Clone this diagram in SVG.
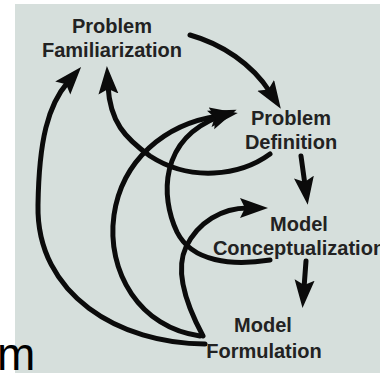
<svg xmlns="http://www.w3.org/2000/svg" width="380" height="373" viewBox="0 0 380 373">
  <style>
    .label { font-family: "Liberation Sans", Arial, sans-serif; font-weight: bold; font-size: 20px; fill: #222222; text-anchor: middle; }
    .flow { fill: none; stroke: #0b0b0b; stroke-width: 5; stroke-linecap: round; marker-end: url(#head); }
    .head { fill: #0b0b0b; }
  </style>
  <defs>
    <marker id="head" markerUnits="userSpaceOnUse" markerWidth="32" markerHeight="22" refX="8" refY="10" orient="auto">
      <path class="head" d="M0,0 L28,10 L0,20 L5,10 z"/>
    </marker>
  </defs>

  <!-- page and panel background -->
  <rect x="0" y="0" width="380" height="373" fill="#ffffff"/>
  <rect x="15" y="4" width="365" height="369" fill="#d6dfdc"/>

  <!-- connectors -->
  <g id="connectors">
    <!-- forward steps -->
    <path class="flow" d="M190,35 C222,44 252,64 270,92"/>
    <path class="flow" d="M301,156 L305,185"/>
    <path class="flow" d="M306,261 L304,288"/>
    <!-- feedback: formulation to familiarization (outer) -->
    <path class="flow" d="M205,344 C120,344 36,295 38,205 C39,140 48,105 68,82"/>
    <!-- feedback: definition to familiarization -->
    <path class="flow" d="M270,154 C240,176 190,182 150,156 C125,138 110,122 108,86"/>
    <!-- feedback: formulation to definition -->
    <path class="flow" d="M200,336 C140,328 106,272 114,215 C122,160 165,124 218,116"/>
    <!-- feedback: conceptualization to definition -->
    <path class="flow" d="M270,260 C232,266 192,262 177,232 C160,196 160,140 218,117"/>
    <!-- feedback: formulation to conceptualization -->
    <path class="flow" d="M203,336 C188,308 174,272 186,247 C198,222 222,208 248,208"/>
  </g>

  <!-- nodes -->
  <g id="problem-familiarization">
    <text class="label" x="112" y="33">Problem</text>
    <text class="label" x="112" y="57">Familiarization</text>
  </g>
  <g id="problem-definition">
    <text class="label" x="291" y="125">Problem</text>
    <text class="label" x="291" y="149">Definition</text>
  </g>
  <g id="model-conceptualization">
    <text class="label" x="299" y="231">Model</text>
    <text class="label" x="299" y="255">Conceptualization</text>
  </g>
  <g id="model-formulation">
    <text class="label" x="263" y="332">Model</text>
    <text class="label" x="264" y="358">Formulation</text>
  </g>

  <!-- stray letter at the lower left edge -->
  <text x="-3" y="370" font-family="Liberation Sans, Arial, sans-serif" font-size="46" fill="#000000">m</text>
</svg>
